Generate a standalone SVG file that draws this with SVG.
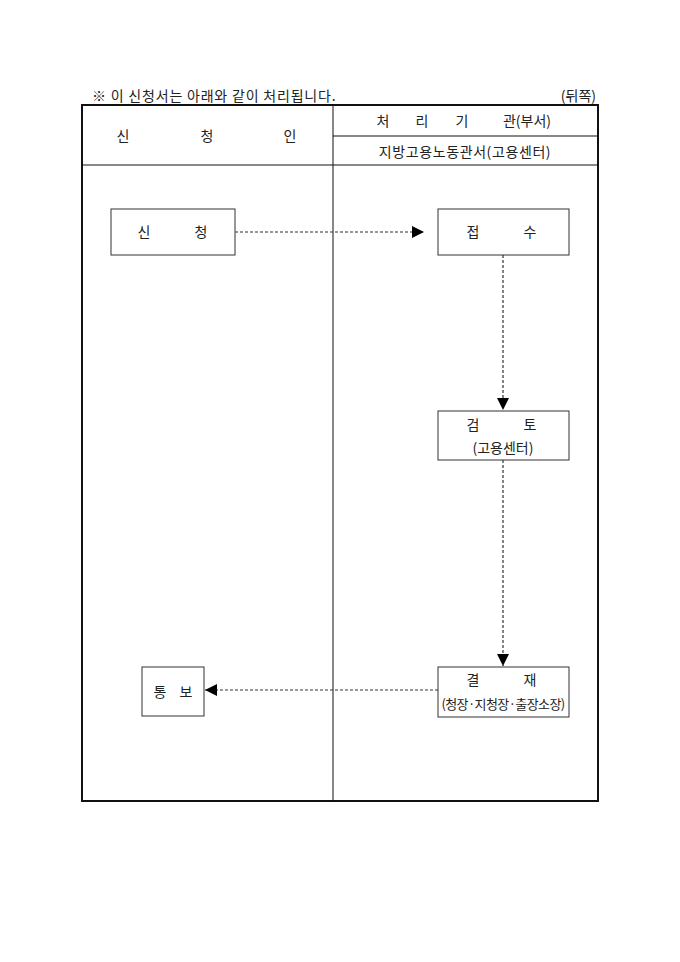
<svg xmlns="http://www.w3.org/2000/svg" width="680" height="962" viewBox="0 0 680 962">
<style>
text{font-family:"Noto Sans CJK KR","Noto Sans",sans-serif;font-size:13px;fill:#222}
.hd{font-size:14px}
.box{fill:#fff;stroke:#333;stroke-width:1}
.line{stroke:#111;stroke-width:1;fill:none}
.dash{stroke:#333;stroke-width:1.2;stroke-dasharray:3,2;fill:none}
</style>
<defs>
<marker id="ah" viewBox="0 0 12 12" refX="12" refY="6" markerWidth="12" markerHeight="12" markerUnits="userSpaceOnUse" orient="auto">
<path d="M0,0 L12,6 L0,12 Z" fill="#000"/>
</marker>
</defs>
<rect width="680" height="962" fill="#fff"/>
<g id="title">
<text class="hd" x="92" y="101" style="letter-spacing:0.8px">※ 이 신청서는 아래와 같이 처리됩니다.</text>
<text class="hd" x="596" y="101" text-anchor="end">(뒤쪽)</text>
</g>
<g id="table">
<rect x="82" y="105" width="516" height="696" fill="none" stroke="#111" stroke-width="2"/>
<line class="line" x1="333" y1="105" x2="333" y2="801"/>
<line class="line" x1="82" y1="165" x2="598" y2="165"/>
<line class="line" x1="333" y1="136" x2="598" y2="136"/>
<text class="hd" x="123" y="141" text-anchor="middle">신</text>
<text class="hd" x="207" y="141" text-anchor="middle">청</text>
<text class="hd" x="290" y="141" text-anchor="middle">인</text>
<text class="hd" x="383" y="126" text-anchor="middle">처</text>
<text class="hd" x="422" y="126" text-anchor="middle">리</text>
<text class="hd" x="462" y="126" text-anchor="middle">기</text>
<text class="hd" x="527" y="126" text-anchor="middle">관(부서)</text>
<text class="hd" x="465" y="157" text-anchor="middle" style="letter-spacing:0.6px">지방고용노동관서(고용센터)</text>
</g>
<g id="connectors">
<line class="dash" x1="235" y1="232" x2="424" y2="232" marker-end="url(#ah)"/>
<line class="dash" x1="503" y1="255" x2="503" y2="410" marker-end="url(#ah)"/>
<line class="dash" x1="503" y1="460" x2="503" y2="666" marker-end="url(#ah)"/>
<line class="dash" x1="438" y1="690" x2="205" y2="690" marker-end="url(#ah)"/>
</g>
<g id="n-apply">
<rect class="box" x="111" y="209" width="124" height="46"/>
<text class="hd" x="144" y="237" text-anchor="middle">신</text>
<text class="hd" x="201" y="237" text-anchor="middle">청</text>
</g>
<g id="n-receive">
<rect class="box" x="438" y="209" width="131" height="46"/>
<text class="hd" x="473" y="237" text-anchor="middle">접</text>
<text class="hd" x="530" y="237" text-anchor="middle">수</text>
</g>
<g id="n-review">
<rect class="box" x="438" y="411" width="131" height="49"/>
<text class="hd" x="473" y="430" text-anchor="middle">검</text>
<text class="hd" x="530" y="430" text-anchor="middle">토</text>
<text class="hd" x="503" y="453" text-anchor="middle">(고용센터)</text>
</g>
<g id="n-approve">
<rect class="box" x="438" y="667" width="131" height="50"/>
<text class="hd" x="473" y="685" text-anchor="middle">결</text>
<text class="hd" x="530" y="685" text-anchor="middle">재</text>
<text x="503" y="709" text-anchor="middle" style="letter-spacing:-0.6px">(청장·지청장·출장소장)</text>
</g>
<g id="n-notify">
<rect class="box" x="142" y="667" width="62" height="49"/>
<text class="hd" x="160" y="697" text-anchor="middle">통</text>
<text class="hd" x="186" y="697" text-anchor="middle">보</text>
</g>
</svg>
